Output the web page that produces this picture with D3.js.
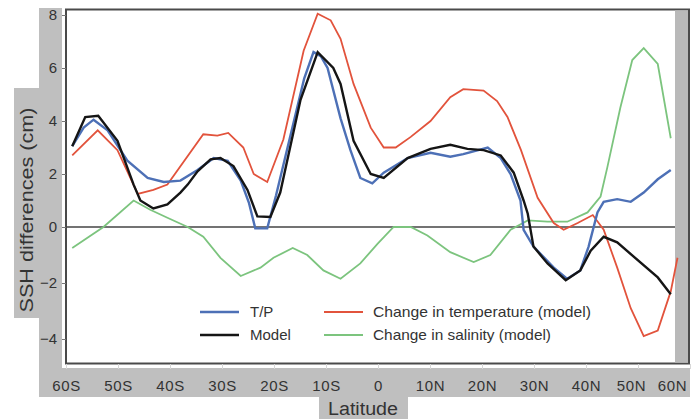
<!DOCTYPE html>
<html>
<head>
<meta charset="utf-8">
<script src="https://cdn.jsdelivr.net/npm/d3@7"></script>
<style>
    body { margin: 0; background: #fff; }
    svg text { font-family: "Liberation Sans", Arial, sans-serif; fill: #333; }
</style>
</head>
<body>
<div id="chart"></div>
<script>
// axis ticks
var latTicks = [-60, -50, -40, -30, -20, -10, 0, 10, 20, 30, 40, 50, 60];
var latLabels = ["60S", "50S", "40S", "30S", "20S", "10S", "0", "10N", "20N", "30N", "40N", "50N", "60N"];
var sshTicks = [-4, -2, 0, 2, 4, 6, 8];

// T/P (observed)
var tpLat = [-58.8, -56.6, -54.7, -52.0, -48.2, -44.3, -41.2, -38.0, -34.7, -31.6, -28.9, -26.4, -24.8, -23.6, -21.3,
    -19.6, -14.2, -12.4, -11.0, -9.7, -7.2, -5.3, -3.4, -1.1, 1.1, 5.7, 10.1, 13.9, 16.4, 21.1, 23.6, 25.5, 27.4,
    28.0, 29.9, 33.8, 36.4, 38.9, 40.5, 42.2, 43.4, 46.0, 48.6, 51.1, 53.8, 56.3];
var tpVal = [3.05, 3.75, 4.05, 3.65, 2.5, 1.85, 1.7, 1.75, 2.15, 2.6, 2.5, 1.75, 0.9, -0.05, -0.05,
    1.2, 5.6, 6.6, 6.45, 6.0, 4.1, 2.9, 1.85, 1.65, 2.05, 2.6, 2.8, 2.65, 2.75, 3.0, 2.6, 2.0, 1.0,
    -0.1, -0.7, -1.45, -1.85, -1.55, -0.7, 0.55, 0.95, 1.05, 0.95, 1.3, 1.8, 2.15];

// Model
var modelLat = [-58.8, -56.3, -53.8, -50.1, -47.0, -45.7, -43.2, -40.5, -38.0, -36.6, -34.7, -32.2, -30.3, -27.8,
    -25.1, -23.2, -20.7, -18.8, -14.9, -11.6, -8.6, -7.2, -4.7, -1.4, 1.1, 5.7, 10.1, 13.9, 17.2, 20.3, 23.6,
    26.1, 28.0, 28.8, 29.9, 32.6, 36.1, 38.9, 40.9, 43.4, 46.0, 53.8, 56.3];
var modelVal = [3.05, 4.15, 4.2, 3.25, 1.6, 1.0, 0.7, 0.85, 1.3, 1.6, 2.1, 2.55, 2.6, 2.3,
    1.4, 0.4, 0.38, 1.3, 4.8, 6.6, 6.0, 5.4, 3.25, 2.0, 1.85, 2.6, 2.95, 3.1, 2.95, 2.9, 2.7,
    2.05, 1.0, 0.5, -0.7, -1.3, -1.9, -1.55, -0.85, -0.35, -0.55, -1.8, -2.4];

// Change in temperature (model)
var tempLat = [-58.8, -53.9, -50.1, -46.2, -43.2, -40.5, -33.6, -30.9, -28.8, -25.9, -23.9, -21.3, -18.2, -14.3,
    -11.6, -9.1, -7.2, -4.7, -1.4, 1.1, 3.4, 6.3, 10.1, 13.9, 16.4, 20.3, 22.9, 24.9, 27.5, 30.7, 33.8, 35.7,
    38.4, 41.3, 43.4, 46.0, 48.6, 51.1, 53.8, 56.3, 57.6];
var tempVal = [2.7, 3.65, 2.9, 1.25, 1.4, 1.6, 3.5, 3.45, 3.55, 3.0, 2.0, 1.7, 3.3, 6.65,
    8.05, 7.8, 7.1, 5.4, 3.75, 3.0, 3.0, 3.4, 4.0, 4.9, 5.2, 5.15, 4.75, 4.15, 2.9, 1.1, 0.15, -0.1,
    0.15, 0.45, -0.1, -1.45, -2.9, -3.9, -3.7, -2.3, -1.1];

// Change in salinity (model)
var saltLat = [-58.8, -52.8, -47.0, -43.8, -40.5, -36.6, -33.6, -30.3, -26.4, -22.6, -20.1, -16.4, -13.6, -10.5,
    -7.2, -3.4, -0.1, 3.0, 6.3, 9.5, 13.9, 18.4, 21.6, 25.5, 28.8, 32.6, 36.4, 40.3, 42.8, 44.1, 46.6, 48.9,
    51.1, 53.8, 56.3];
var saltVal = [-0.75, 0, 1.0, 0.65, 0.35, 0, -0.35, -1.1, -1.75, -1.45, -1.1, -0.75, -1.0, -1.55,
    -1.85, -1.3, -0.6, 0, 0, -0.3, -0.9, -1.25, -1.0, -0.1, 0.25, 0.2, 0.2, 0.55, 1.15, 2.25, 4.5, 6.3,
    6.75, 6.15, 3.35];

var legendNames = ["T/P", "Model", "Change in temperature (model)", "Change in salinity (model)"];

var colors = {tp: "#4d70b6", model: "#151515", temp: "#e2533c", salt: "#7cc47e"};

var width = 698, height = 419;

var svg = d3.select("#chart").append("svg")
    .attr("width", width)
    .attr("height", height);

// gray panels behind the axes
svg.append("rect").attr("x", 39).attr("y", 8).attr("width", 23).attr("height", 389).style("fill", "#bfbfbf");
svg.append("rect").attr("x", 39).attr("y", 368).attr("width", 651).attr("height", 29).style("fill", "#bfbfbf");
svg.append("rect").attr("x", 14).attr("y", 88).attr("width", 26).attr("height", 230).style("fill", "#bfbfbf");
svg.append("rect").attr("x", 319).attr("y", 397).attr("width", 89).attr("height", 22).style("fill", "#bfbfbf");

var x = d3.scaleLinear().domain([-60, 60]).range([66, 690]);
var y = d3.scaleLinear().domain([-4, 0, 8]).range([339, 227, 15]);

// plot frame
svg.append("rect")
    .attr("x", 66).attr("y", 9.5)
    .attr("width", 623).attr("height", 354)
    .style("fill", "#fff")
    .style("stroke", "#4a4a4a")
    .style("stroke-width", 2);

svg.append("rect")
    .attr("x", 675).attr("y", 10.5)
    .attr("width", 13).attr("height", 352)
    .style("fill", "#b9b9b9");

// zero line
svg.append("line")
    .attr("x1", x(-60)).attr("x2", 675)
    .attr("y1", y(0)).attr("y2", y(0))
    .style("stroke", "#444")
    .style("stroke-width", 1.5);

function series(lats, vals) {
    return lats.map(function (d, i) {
        return {lat: d, val: vals[i]};
    });
}

var line = d3.line()
    .x(function (d) {
        return x(d.lat);
    })
    .y(function (d) {
        return y(d.val);
    });

svg.append("path").datum(series(saltLat, saltVal))
    .attr("d", line).style("fill", "none").style("stroke", colors.salt).style("stroke-width", 1.8);
svg.append("path").datum(series(tempLat, tempVal))
    .attr("d", line).style("fill", "none").style("stroke", colors.temp).style("stroke-width", 1.8);
svg.append("path").datum(series(tpLat, tpVal))
    .attr("d", line).style("fill", "none").style("stroke", colors.tp).style("stroke-width", 2.4);
svg.append("path").datum(series(modelLat, modelVal))
    .attr("d", line).style("fill", "none").style("stroke", colors.model).style("stroke-width", 2.4);

// y axis
var yAxis = svg.append("g")
    .attr("transform", "translate(66,0)")
    .call(d3.axisLeft(y).tickValues(sshTicks).tickSize(4).tickPadding(5).tickFormat(d3.format("d")));
yAxis.select(".domain").remove();
yAxis.selectAll("line").style("stroke", "#777");
yAxis.selectAll("text").style("font-size", "15px").style("fill", "#333");

// x axis
var xAxis = svg.append("g")
    .attr("transform", "translate(0,364)")
    .call(d3.axisBottom(x).tickValues(latTicks).tickSize(5).tickPadding(11)
        .tickFormat(function (d, i) {
            return latLabels[i];
        }));
xAxis.select(".domain").remove();
xAxis.selectAll("line").style("stroke", "#d8d8d8");
xAxis.selectAll("text")
    .style("font-size", "15px")
    .style("letter-spacing", "0.6px")
    .style("fill", "#333")
    .attr("dx", function (d) {
        if (d === 60) return -18;
        if (d === 50) return -7;
        return 0;
    });

// axis titles
svg.append("text")
    .attr("transform", "translate(27,210) rotate(-90)")
    .attr("text-anchor", "middle")
    .attr("dominant-baseline", "central")
    .attr("textLength", 205)
    .attr("lengthAdjust", "spacingAndGlyphs")
    .style("font-size", "18px")
    .text("SSH differences (cm)");

svg.append("text")
    .attr("x", 363)
    .attr("y", 415)
    .attr("text-anchor", "middle")
    .attr("textLength", 70)
    .attr("lengthAdjust", "spacingAndGlyphs")
    .style("font-size", "18px")
    .text("Latitude");

// legend
var legendColors = [colors.tp, colors.model, colors.temp, colors.salt];
var legendWidths = [2.4, 2.4, 1.8, 1.8];
var legendText = [null, null, 218, 178];

legendNames.forEach(function (name, i) {
    var lx = i < 2 ? 200 : 324,
        ly = i % 2 === 0 ? 312 : 335;

    svg.append("line")
        .attr("x1", lx).attr("x2", lx + 39)
        .attr("y1", ly).attr("y2", ly)
        .style("stroke", legendColors[i])
        .style("stroke-width", legendWidths[i]);

    var t = svg.append("text")
        .attr("x", lx + (i < 2 ? 50 : 49))
        .attr("y", ly)
        .attr("dy", "0.35em")
        .style("font-size", "15px")
        .text(name);
    if (legendText[i]) {
        t.attr("textLength", legendText[i]).attr("lengthAdjust", "spacingAndGlyphs");
    }
});
</script>
</body>
</html>
